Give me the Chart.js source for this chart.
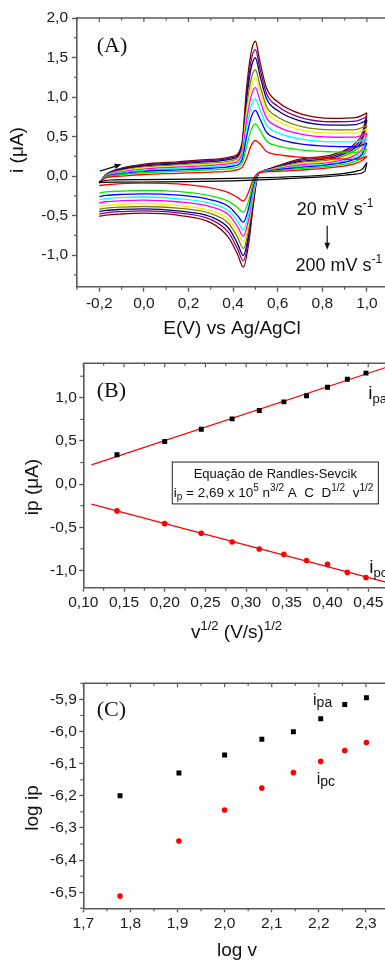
<!DOCTYPE html>
<html><head><meta charset="utf-8">
<script src="https://cdn.jsdelivr.net/npm/chart.js@4.4.1/dist/chart.umd.min.js"></script>
<style>
html,body{margin:0;padding:0;background:#fff;overflow:hidden;}
body{width:385px;height:961px;position:relative;}
canvas{position:absolute;left:0;}
</style></head><body>
<canvas id="cA" width="400" height="340" style="top:0px"></canvas>
<canvas id="cB" width="400" height="305" style="top:340px"></canvas>
<canvas id="cC" width="400" height="316" style="top:645px"></canvas>
<script>
// ================= DATA =================
// Panel A : cyclic voltammograms (E in V vs Ag/AgCl, i in µA)
const RATES = [20, 40, 60, 80, 100, 120, 140, 160, 180, 200]; // mV/s
const E_FWD = [-0.2, -0.17, -0.1, 0.0, 0.15, 0.3, 0.4, 0.44, 0.46, 0.48, 0.5, 0.52, 0.55, 0.6, 0.7, 0.85, 0.95, 0.98, 1.0];
const E_REV = [-0.2, -0.17, -0.1, 0.0, 0.15, 0.3, 0.38, 0.42, 0.446, 0.47, 0.49, 0.51, 0.53, 0.56, 0.6, 0.7, 0.85, 0.95, 0.98, 1.0];

const FWD_20  = [-0.08, -0.02, 0.0, 0.02, 0.035, 0.05, 0.07, 0.11, 0.22, 0.38, 0.45, 0.41, 0.31, 0.27, 0.24, 0.22, 0.21, 0.23, 0.25];
const FWD_40  = [-0.082, -0.013, 0.017, 0.042, 0.059, 0.077, 0.10, 0.162, 0.367, 0.575, 0.66, 0.584, 0.444, 0.382, 0.332, 0.305, 0.299, 0.32, 0.342];
const FWD_60  = [-0.083, -0.008, 0.030, 0.060, 0.079, 0.099, 0.125, 0.204, 0.488, 0.736, 0.832, 0.726, 0.553, 0.474, 0.407, 0.375, 0.371, 0.394, 0.417];
const FWD_80  = [-0.084, -0.003, 0.042, 0.074, 0.096, 0.117, 0.145, 0.24, 0.588, 0.869, 0.975, 0.845, 0.644, 0.55, 0.47, 0.433, 0.432, 0.456, 0.48];
const FWD_100 = [-0.085, 0.001, 0.053, 0.089, 0.112, 0.135, 0.166, 0.275, 0.688, 1.002, 1.118, 0.963, 0.736, 0.626, 0.533, 0.491, 0.492, 0.517, 0.543];
const FWD_120 = [-0.086, 0.005, 0.063, 0.102, 0.127, 0.151, 0.184, 0.306, 0.777, 1.121, 1.245, 1.068, 0.816, 0.694, 0.588, 0.543, 0.545, 0.572, 0.598];
const FWD_140 = [-0.087, 0.009, 0.071, 0.113, 0.138, 0.164, 0.198, 0.331, 0.847, 1.214, 1.345, 1.152, 0.88, 0.748, 0.632, 0.584, 0.588, 0.615, 0.642];
const FWD_160 = [-0.088, 0.013, 0.083, 0.128, 0.156, 0.183, 0.22, 0.369, 0.954, 1.356, 1.497, 1.277, 0.977, 0.829, 0.699, 0.645, 0.652, 0.68, 0.709];
const FWD_180 = [-0.089, 0.017, 0.092, 0.139, 0.168, 0.197, 0.235, 0.394, 1.026, 1.452, 1.60, 1.363, 1.043, 0.884, 0.744, 0.687, 0.695, 0.725, 0.754];
const FWD_200 = [-0.09, 0.02, 0.10, 0.15, 0.18, 0.21, 0.25, 0.42, 1.10, 1.55, 1.706, 1.45, 1.11, 0.94, 0.79, 0.73, 0.74, 0.77, 0.80];

const REV_20  = [-0.12, -0.11, -0.095, -0.09, -0.10, -0.15, -0.21, -0.27, -0.315, -0.20, -0.04, 0.035, 0.05, 0.055, 0.06, 0.075, 0.11, 0.16, 0.20, 0.25];
const REV_40  = [-0.215, -0.20, -0.19, -0.18, -0.195, -0.25, -0.32, -0.40, -0.458, -0.31, -0.09, 0.03, 0.052, 0.06, 0.07, 0.095, 0.13, 0.19, 0.24, 0.342];
const REV_60  = [-0.26, -0.245, -0.232, -0.225, -0.24, -0.30, -0.385, -0.50, -0.584, -0.40, -0.13, 0.025, 0.053, 0.065, 0.08, 0.11, 0.15, 0.22, 0.28, 0.417];
const REV_80  = [-0.30, -0.285, -0.272, -0.265, -0.285, -0.345, -0.44, -0.575, -0.681, -0.48, -0.17, 0.02, 0.054, 0.068, 0.087, 0.125, 0.165, 0.245, 0.31, 0.48];
const REV_100 = [-0.34, -0.325, -0.312, -0.305, -0.325, -0.39, -0.49, -0.64, -0.761, -0.54, -0.20, 0.018, 0.055, 0.072, 0.095, 0.14, 0.18, 0.27, 0.345, 0.543];
const REV_120 = [-0.385, -0.37, -0.357, -0.35, -0.37, -0.44, -0.55, -0.71, -0.836, -0.60, -0.24, 0.015, 0.056, 0.076, 0.103, 0.155, 0.198, 0.30, 0.38, 0.598];
const REV_140 = [-0.42, -0.405, -0.392, -0.385, -0.405, -0.475, -0.60, -0.775, -0.916, -0.665, -0.27, 0.012, 0.057, 0.08, 0.11, 0.17, 0.215, 0.33, 0.42, 0.642];
const REV_160 = [-0.45, -0.435, -0.422, -0.415, -0.44, -0.515, -0.66, -0.855, -1.005, -0.73, -0.31, 0.008, 0.058, 0.084, 0.117, 0.185, 0.235, 0.36, 0.46, 0.709];
const REV_180 = [-0.48, -0.465, -0.45, -0.44, -0.465, -0.55, -0.715, -0.92, -1.072, -0.79, -0.34, 0.004, 0.059, 0.087, 0.123, 0.20, 0.255, 0.39, 0.50, 0.754];
const REV_200 = [-0.51, -0.495, -0.48, -0.47, -0.495, -0.59, -0.78, -0.99, -1.151, -0.85, -0.38, 0.0, 0.06, 0.09, 0.13, 0.215, 0.275, 0.42, 0.55, 0.80];

// blank (black) voltammogram
const E_BLANK_FWD = [-0.2, -0.15, 0.0, 0.2, 0.4, 0.6, 0.8, 0.9, 0.95, 0.98, 1.0];
const I_BLANK_FWD = [-0.07, -0.05, -0.045, -0.04, -0.03, -0.015, 0.01, 0.035, 0.06, 0.09, 0.17];
const E_BLANK_REV = [-0.2, 0.0, 0.2, 0.4, 0.6, 0.8, 0.9, 0.95, 0.99, 1.0];
const I_BLANK_REV = [-0.08, -0.075, -0.07, -0.06, -0.04, -0.01, 0.01, 0.025, 0.06, 0.17];

// Panel B : Randles-Sevcik plot
const SQRT_V = [0.1414, 0.2, 0.2449, 0.2828, 0.3162, 0.3464, 0.3742, 0.4, 0.4243, 0.4472];
const IPA = [0.34, 0.495, 0.635, 0.756, 0.852, 0.953, 1.023, 1.123, 1.216, 1.286];
const IPC = [-0.31, -0.458, -0.570, -0.671, -0.752, -0.814, -0.884, -0.93, -1.023, -1.081];
const FIT_X = [0.11, 0.475];
const FIT_IPA = [0.224, 1.363];
const FIT_IPC = [-0.233, -1.144];

// Panel C : log ip vs log v
const LOG_V = [1.778, 1.903, 2.0, 2.079, 2.146, 2.204, 2.255, 2.301];
const LOG_IPA = [-6.2, -6.129, -6.073, -6.024, -6.001, -5.96, -5.916, -5.895];
const LOG_IPC = [-6.512, -6.341, -6.244, -6.176, -6.128, -6.093, -6.059, -6.034];

// tick labels
const TICKS_A_X = [-0.2, 0, 0.2, 0.4, 0.6, 0.8, 1.0];
const TICKS_A_Y = [-1.0, -0.5, 0, 0.5, 1.0, 1.5, 2.0];
const TICKS_B_X = [0.10, 0.15, 0.20, 0.25, 0.30, 0.35, 0.40, 0.45];
const TICKS_B_Y = [-1.0, -0.5, 0, 0.5, 1.0];
const TICKS_C_X = [1.7, 1.8, 1.9, 2.0, 2.1, 2.2, 2.3];
const TICKS_C_Y = [-6.5, -6.4, -6.3, -6.2, -6.1, -6.0, -5.9];

// ================= STYLE =================
const CURVES = [
  [FWD_20, REV_20, '#ff0000'], [FWD_40, REV_40, '#00ee00'], [FWD_60, REV_60, '#0000ff'],
  [FWD_80, REV_80, '#00ffff'], [FWD_100, REV_100, '#ff00ff'], [FWD_120, REV_120, '#f0f000'],
  [FWD_140, REV_140, '#808000'], [FWD_160, REV_160, '#000080'], [FWD_180, REV_180, '#800080'],
  [FWD_200, REV_200, '#800000']
];
const AXC = '#5a5a5a', AXW = 1.6;
const SANSF = '"Liberation Sans", Arial, sans-serif';
const SANS = s => s + 'px ' + SANSF;
const SERIF = s => s + 'px "Liberation Serif", "Times New Roman", serif';
Chart.defaults.font.family = SANSF;

function txt(ctx, x, y, parts, align) {
  let w = 0;
  for (const p of parts) { ctx.font = p.f; w += ctx.measureText(p.t).width; }
  let cx = align === 'center' ? x - w / 2 : (align === 'right' ? x - w : x);
  ctx.textAlign = 'left'; ctx.textBaseline = 'alphabetic';
  for (const p of parts) {
    ctx.font = p.f; ctx.fillStyle = p.c || '#111';
    ctx.fillText(p.t, cx, y + (p.dy || 0));
    cx += ctx.measureText(p.t).width;
  }
}
function vtxt(ctx, x, y, parts) {
  ctx.save(); ctx.translate(x, y); ctx.rotate(-Math.PI / 2);
  txt(ctx, 0, 0, parts, 'center'); ctx.restore();
}
function arrow(ctx, x1, y1, x2, y2) {
  const a = Math.atan2(y2 - y1, x2 - x1), L = 7, W = 2.8;
  ctx.strokeStyle = '#111'; ctx.lineWidth = 1.2;
  ctx.beginPath(); ctx.moveTo(x1, y1); ctx.lineTo(x2 - L * 0.7 * Math.cos(a), y2 - L * 0.7 * Math.sin(a)); ctx.stroke();
  ctx.fillStyle = '#111'; ctx.beginPath(); ctx.moveTo(x2, y2);
  ctx.lineTo(x2 - L * Math.cos(a) + W * Math.sin(a), y2 - L * Math.sin(a) - W * Math.cos(a));
  ctx.lineTo(x2 - L * Math.cos(a) - W * Math.sin(a), y2 - L * Math.sin(a) + W * Math.cos(a));
  ctx.closePath(); ctx.fill();
}
function minorVals(majors, h, s) {
  const out = [];
  for (let v = majors[0] - h; v >= s.min - 1e-9; v -= 2 * h) out.push(v);
  for (let k = 0; k < majors.length - 1; k++) out.push((majors[k] + majors[k + 1]) / 2);
  for (let v = majors[majors.length - 1] + h; v <= s.max + 1e-9; v += 2 * h) out.push(v);
  return out;
}
function seg(ctx, x1, y1, x2, y2) { ctx.beginPath(); ctx.moveTo(x1, y1); ctx.lineTo(x2, y2); ctx.stroke(); }

const deco = {
  id: 'deco',
  afterDraw(chart, args, o) {
    if (!o || !o.xMaj) return;
    const ctx = chart.ctx, ca = chart.chartArea, xs = chart.scales.x, ys = chart.scales.y;
    ctx.save();
    ctx.strokeStyle = AXC; ctx.lineWidth = AXW;
    seg(ctx, ca.left, ca.top, ca.right, ca.top);
    seg(ctx, ca.right, ca.top, ca.right, ca.bottom);
    ctx.lineWidth = 1.2;
    for (const v of minorVals(o.xMaj, o.xH, xs)) {
      const p = xs.getPixelForValue(v);
      seg(ctx, p, ca.bottom, p, ca.bottom + 3);
      seg(ctx, p, ca.top, p, ca.top + 2.5);
    }
    for (const v of o.xMaj) { const p = xs.getPixelForValue(v); seg(ctx, p, ca.top, p, ca.top + 4); }
    for (const v of minorVals(o.yMaj, o.yH, ys)) {
      const p = ys.getPixelForValue(v);
      seg(ctx, ca.left - 3, p, ca.left, p);
    }
    if (o.draw) o.draw(ctx, chart);
    ctx.restore();
  }
};
Chart.register(deco);

function axis(min, max, ticksArr, dec, fit, tl, pad) {
  return {
    type: 'linear', min: min, max: max,
    afterBuildTicks: s => { s.ticks = ticksArr.map(v => ({ value: v })); },
    afterFit: fit,
    ticks: { autoSkip: false, maxRotation: 0, minRotation: 0, padding: pad, color: '#1a1a1a',
      font: { size: 15.5 }, callback: v => Number(v).toFixed(dec).replace('.', ',') },
    grid: { drawOnChartArea: false, drawTicks: true, tickLength: tl, tickWidth: 1.4, tickColor: AXC, color: AXC },
    border: { display: true, color: AXC, width: AXW }
  };
}
function lineDs(xs, ys, color, w) {
  return { data: xs.map((x, k) => ({ x: x, y: ys[k] })), showLine: true, borderColor: color, borderWidth: w,
    pointRadius: 0, pointHoverRadius: 0, fill: false, cubicInterpolationMode: 'monotone', order: 1 };
}
function markDs(xs, ys, style, r, color) {
  return { data: xs.map((x, k) => ({ x: x, y: ys[k] })), showLine: false, pointStyle: style, pointRadius: r,
    pointHoverRadius: r, pointBackgroundColor: color, pointBorderWidth: 0, order: 0 };
}
const base = (pad) => ({ responsive: false, animation: false, events: [], layout: { padding: pad },
  plugins: { legend: { display: false }, tooltip: { enabled: false } } });

// ================= PANEL A =================
const dsA = [lineDs(E_BLANK_FWD, I_BLANK_FWD, '#000', 1.2), lineDs(E_BLANK_REV, I_BLANK_REV, '#000', 1.2)];
CURVES.forEach(c => { dsA.push(lineDs(E_FWD, c[0], c[2], 1.3)); dsA.push(lineDs(E_REV, c[1], c[2], 1.3)); });
const optA = base({ left: 0, top: 18, right: 10.8, bottom: 0 });
optA.scales = {
  x: axis(-0.3, 1.1, TICKS_A_X, 1, s => { s.height = 53.3; }, 5, 3),
  y: axis(-1.4, 2.0, TICKS_A_Y, 1, s => { s.width = 77; }, 5, 4)
};
optA.plugins.deco = { xMaj: TICKS_A_X, xH: 0.1, yMaj: TICKS_A_Y, yH: 0.25, draw: (ctx, ch) => {
  const X = v => ch.scales.x.getPixelForValue(v), Y = v => ch.scales.y.getPixelForValue(v), ca = ch.chartArea;
  txt(ctx, ca.left + 19.7, ca.top + 33.7, [{ t: '(A)', f: SERIF(22) }]);
  arrow(ctx, X(-0.198), Y(0.063), X(-0.10), Y(0.148));
  txt(ctx, X(0.685), Y(-0.492), [{ t: '20 mV s', f: SANS(18) }, { t: '-1', f: SANS(12), dy: -8 }]);
  arrow(ctx, X(0.822), Y(-0.63), X(0.822), Y(-0.933));
  txt(ctx, X(0.68), Y(-1.207), [{ t: '200 mV s', f: SANS(18) }, { t: '-1', f: SANS(12), dy: -8 }]);
  txt(ctx, 232, 333.5, [{ t: 'E(V) vs Ag/AgCl', f: SANS(19) }], 'center');
  vtxt(ctx, 23, 150, [{ t: 'i (\u03bcA)', f: SANS(19) }]);
} };
new Chart(document.getElementById('cA'), { type: 'scatter', data: { datasets: dsA }, options: optA });

// ================= PANEL B =================
const dsB = [
  markDs(SQRT_V, IPA, 'rect', 3.5, '#000'),
  markDs(SQRT_V, IPC, 'circle', 2.8, '#ff0000'),
  lineDs(FIT_X, FIT_IPA, '#ff0000', 1.3),
  lineDs(FIT_X, FIT_IPC, '#ff0000', 1.3)
];
const optB = base({ left: 0, top: 23.3, right: 11.4, bottom: 0 });
optB.scales = {
  x: axis(0.10, 0.475, TICKS_B_X, 2, s => { s.height = 57.3; }, 4, 1.5),
  y: axis(-1.2, 1.4, TICKS_B_Y, 1, s => { s.width = 83.3; }, 4, 2.5)
};
optB.plugins.deco = { xMaj: TICKS_B_X, xH: 0.025, yMaj: TICKS_B_Y, yH: 0.25, draw: (ctx, ch) => {
  const X = v => ch.scales.x.getPixelForValue(v), Y = v => ch.scales.y.getPixelForValue(v), ca = ch.chartArea;
  txt(ctx, ca.left + 13.4, ca.top + 33.7, [{ t: '(B)', f: SERIF(22) }]);
  const bx1 = X(0.2093), bx2 = X(0.4624), by1 = Y(0.256), by2 = Y(-0.229);
  ctx.fillStyle = '#fff'; ctx.fillRect(bx1, by1, bx2 - bx1, by2 - by1);
  ctx.strokeStyle = '#222'; ctx.lineWidth = 1; ctx.strokeRect(bx1, by1, bx2 - bx1, by2 - by1);
  txt(ctx, (bx1 + bx2) / 2, Y(0.073), [{ t: 'Equa\u00e7\u00e3o de Randles-Sevcik', f: SANS(13) }], 'center');
  const m = SANS(13.5), sm = SANS(10);
  txt(ctx, bx1 + 1.5, Y(-0.153), [
    { t: 'i', f: m }, { t: 'p', f: sm, dy: 3 }, { t: ' = 2,69 x 10', f: m }, { t: '5', f: sm, dy: -6 },
    { t: ' n', f: m }, { t: '3/2', f: sm, dy: -6 }, { t: ' A  C  D', f: m }, { t: '1/2', f: sm, dy: -6 },
    { t: '  v', f: m }, { t: '1/2', f: sm, dy: -6 }]);
  txt(ctx, X(0.4501), Y(0.992), [{ t: 'i', f: SANS(19) }, { t: 'pa', f: SANS(13), dy: 4 }]);
  txt(ctx, X(0.4513), Y(-1.031), [{ t: 'i', f: SANS(19) }, { t: 'pc', f: SANS(13), dy: 4 }]);
  txt(ctx, 236.5, 297.7, [{ t: 'v', f: SANS(19) }, { t: '1/2', f: SANS(13), dy: -8 },
    { t: ' (V/s)', f: SANS(19) }, { t: '1/2', f: SANS(13), dy: -8 }], 'center');
  vtxt(ctx, 38, 147, [{ t: 'ip (\u03bcA)', f: SANS(19) }]);
} };
new Chart(document.getElementById('cB'), { type: 'scatter', data: { datasets: dsB }, options: optB });

// ================= PANEL C =================
const dsC = [
  markDs(LOG_V, LOG_IPA, 'rect', 3.5, '#000'),
  markDs(LOG_V, LOG_IPC, 'circle', 2.8, '#ff0000')
];
const optC = base({ left: 0, top: 38.3, right: 10.5, bottom: 0 });
optC.scales = {
  x: axis(1.7, 2.35, TICKS_C_X, 1, s => { s.height = 52.7; }, 4, 1.7),
  y: axis(-6.55, -5.85, TICKS_C_Y, 1, s => { s.width = 83.3; }, 4, 2.5)
};
optC.plugins.deco = { xMaj: TICKS_C_X, xH: 0.05, yMaj: TICKS_C_Y, yH: 0.05, draw: (ctx, ch) => {
  const X = v => ch.scales.x.getPixelForValue(v), Y = v => ch.scales.y.getPixelForValue(v), ca = ch.chartArea;
  txt(ctx, ca.left + 13.4, ca.top + 32.7, [{ t: '(C)', f: SERIF(22) }]);
  txt(ctx, X(2.1877), Y(-5.9178), [{ t: 'i', f: SANS(16) }, { t: 'pa', f: SANS(14), dy: 2 }]);
  txt(ctx, X(2.1955), Y(-6.1639), [{ t: 'i', f: SANS(16) }, { t: 'pc', f: SANS(14), dy: 2 }]);
  txt(ctx, 237, 310.5, [{ t: 'log v', f: SANS(19) }], 'center');
  vtxt(ctx, 38, 163, [{ t: 'log ip', f: SANS(19) }]);
} };
new Chart(document.getElementById('cC'), { type: 'scatter', data: { datasets: dsC }, options: optC });
</script></body></html>
